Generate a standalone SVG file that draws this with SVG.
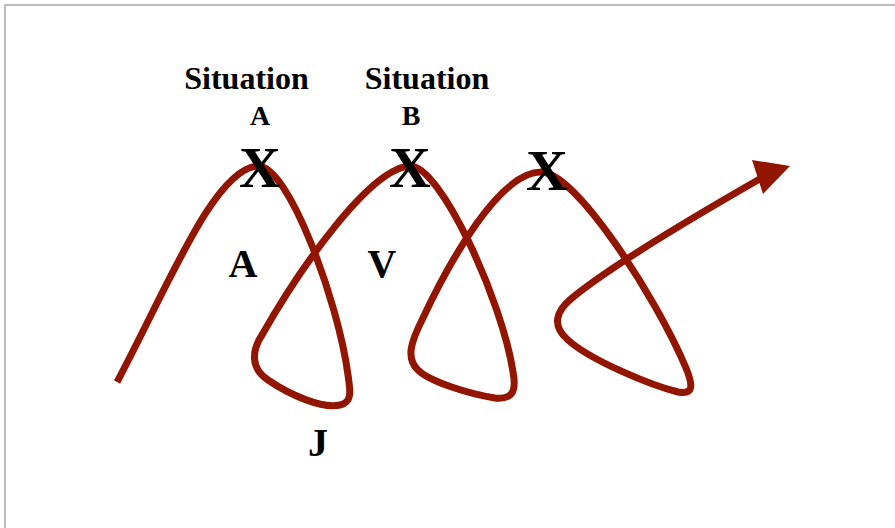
<svg xmlns="http://www.w3.org/2000/svg" width="895" height="528" viewBox="0 0 895 528">
  <style>
    .lbl { font-family: "Liberation Serif", "Times New Roman", serif; font-weight: bold; fill: #000; text-anchor: middle; }
    .head { font-size: 32px; }
    .sub { font-size: 28px; }
    .mark { font-size: 58px; }
    .big { font-size: 40px; }
    .path { fill: none; stroke: #921500; stroke-width: 7; stroke-linecap: butt; stroke-linejoin: round; }
  </style>
  <rect width="895" height="528" fill="#ffffff"/>
  <!-- slide frame -->
  <rect x="5" y="5" width="1000" height="1000" fill="none" stroke="#aaaaaa" stroke-width="1.6"/>

  <g id="connectors">
    <path class="path" d="M117,382
      C170,282 215,168 258,166
      C288,165 338,300 348,375
      C350,390 353,402 340,405
      C322,409 290,395 268,380
      C250,368 252,350 262,335
      C300,268 370,168 410,166
      C440,165 502,300 513,372
      C516,388 515,400 495,398
      C470,394 430,382 418,370
      C405,358 412,340 422,320
      C450,260 500,172 541,172
      C575,172 655,295 686,368
      C693,385 694,395 678,392
      C650,385 590,360 568,340
      C552,326 555,312 572,298
      C600,275 660,236 765,176"/>
    <polygon points="790,166 752,160 763,194" fill="#921500"/>
  </g>

  <g id="situation-a">
    <text class="lbl head" x="246.5" y="89">Situation</text>
    <text class="lbl sub" x="260" y="125">A</text>
    <text class="lbl mark" x="260" y="187">X</text>
  </g>
  <g id="situation-b">
    <text class="lbl head" x="427" y="89">Situation</text>
    <text class="lbl sub" x="411" y="125">B</text>
    <text class="lbl mark" x="410" y="187">X</text>
  </g>
  <g id="point-c">
    <text class="lbl mark" x="547" y="190">X</text>
  </g>
  <g id="label-a">
    <text class="lbl big" x="243" y="277">A</text>
  </g>
  <g id="label-v">
    <text class="lbl big" x="382" y="277">V</text>
  </g>
  <g id="label-j">
    <text class="lbl big" x="318" y="456">J</text>
  </g>
</svg>
